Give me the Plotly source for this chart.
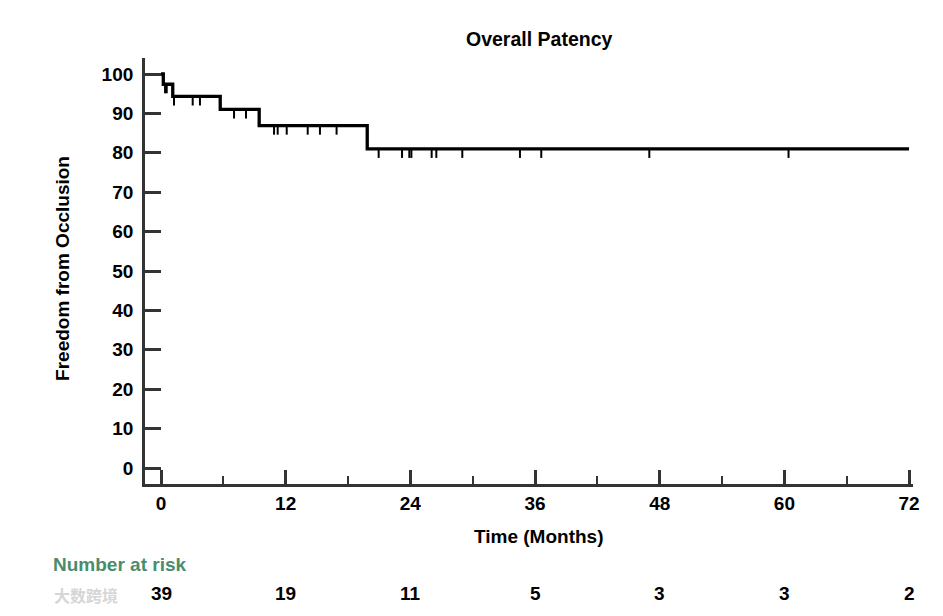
import plotly.graph_objects as go

# ---- data ----
drop_times = [0.22, 1.13, 5.7, 9.45, 19.85]          # months at which events occur
drop_levels = [97.4, 94.3, 91.0, 86.9, 81.0]         # survival (%) after each event
start_level = 100.0
end_time = 72.0

censor_times = [0.39, 0.55,
                1.25, 3.05, 3.75,
                7.03, 8.18,
                10.88, 11.23, 12.1, 14.12, 15.3, 16.9,
                20.95, 23.2, 23.9, 24.1, 26.05, 26.5, 29.0, 34.55, 36.6, 47.0, 60.4]

x_tick_vals = [0, 12, 24, 36, 48, 60, 72]
x_minor_vals = [6, 18, 30, 42, 54, 66]
y_tick_vals = [0, 10, 20, 30, 40, 50, 60, 70, 80, 90, 100]

risk_times = [0, 12, 24, 36, 48, 60, 72]
risk_counts = [39, 19, 11, 5, 3, 3, 2]

title_text = "Overall Patency"
x_title = "Time (Months)"
y_title = "Freedom from Occlusion"
risk_title = "Number at risk"
watermark = "大数跨境"

# ---- build figure ----
FONT = "Liberation Sans, Arial, sans-serif"
AX = "#333333"

step_x = [0.0] + drop_times + [end_time]
step_y = [start_level] + drop_levels + [drop_levels[-1]]


def level_at(t):
    lvl = start_level
    for dt, lv in zip(drop_times, drop_levels):
        if dt <= t:
            lvl = lv
    return lvl


tick_depth = 2.3  # censor tick length in data units
cx, cy = [], []
for t in censor_times:
    lv = level_at(t)
    cx += [t, t, None]
    cy += [lv, lv - tick_depth, None]

fig = go.Figure()
fig.add_trace(go.Scatter(x=cx, y=cy, mode="lines",
                         line=dict(color="black", width=2), hoverinfo="skip"))
fig.add_trace(go.Scatter(x=step_x, y=step_y, mode="lines", line_shape="hv",
                         line=dict(color="black", width=3.3)))

tickfont = dict(family=FONT, size=19, color="black", weight="bold")

fig.update_layout(
    width=927, height=600,
    margin=dict(l=137, r=22, t=50, b=124),
    plot_bgcolor="white", paper_bgcolor="white",
    showlegend=False,
    xaxis=dict(range=[-1.54, 72.38], tickvals=x_tick_vals,
               ticks="inside", ticklen=14, tickwidth=2.6, tickcolor=AX,
               showline=True, linewidth=2.8, linecolor=AX,
               showgrid=False, zeroline=False, tickfont=tickfont,
               minor=dict(tickvals=x_minor_vals, ticks="inside", ticklen=8,
                          tickwidth=2.2, tickcolor=AX, showgrid=False)),
    yaxis=dict(range=[-4.06, 104.06], tickvals=y_tick_vals,
               ticks="inside", ticklen=16, tickwidth=2.6, tickcolor=AX,
               showline=True, linewidth=2.8, linecolor=AX,
               showgrid=False, zeroline=False, tickfont=tickfont,
               ticklabelstandoff=5),
)

ann_font = dict(family=FONT, size=19, color="black", weight="bold")
anns = [
    dict(text=title_text, xref="x", yref="paper", x=36.4, y=1.0446,
         xanchor="center", yanchor="middle", showarrow=False,
         font=dict(family=FONT, size=19.5, color="black", weight="bold")),
    dict(text=y_title, xref="paper", yref="paper", x=-0.1082, y=0.507,
         xanchor="center", yanchor="middle", textangle=-90, showarrow=False,
         font=ann_font),
    dict(text=x_title, xref="x", yref="paper", x=36.3, y=-0.1244,
         xanchor="center", yanchor="middle", showarrow=False, font=ann_font),
    dict(text=risk_title, xref="paper", yref="paper", x=-0.1226, y=-0.1878,
         xanchor="left", yanchor="middle", showarrow=False,
         font=dict(family=FONT, size=19, color="#4a8c6c", weight="bold")),
    dict(text=watermark, xref="paper", yref="paper", x=-0.077, y=-0.2606,
         xanchor="center", yanchor="middle", showarrow=False,
         font=dict(family="Noto Sans CJK SC", size=16, color="#d6d6d6", weight="bold")),
]
for t, n in zip(risk_times, risk_counts):
    anns.append(dict(text=str(n), xref="x", yref="paper", x=t, y=-0.2559,
                     xanchor="center", yanchor="middle", showarrow=False,
                     font=ann_font))
fig.update_layout(annotations=anns)

fig.write_html("out.html")
